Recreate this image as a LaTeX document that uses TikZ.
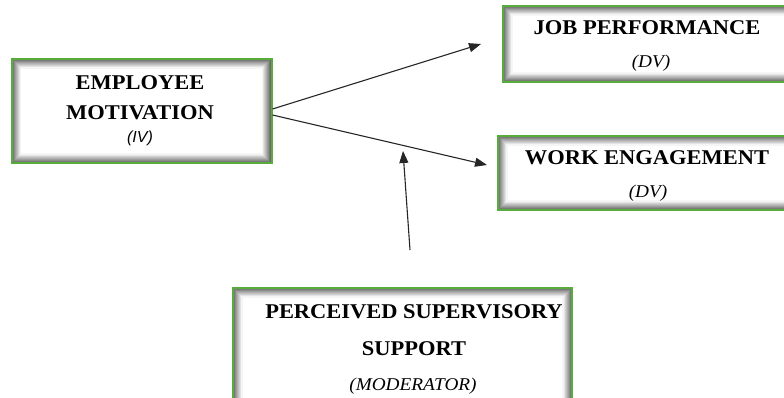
\documentclass[tikz,border=0pt]{standalone}
\usepackage{fontspec}
\setmainfont{Liberation Serif}[FakeStretch=1.07]
\newfontfamily\labelsans{Liberation Sans}
\usetikzlibrary{arrows.meta, positioning}
\definecolor{boxgreen}{RGB}{88,172,58}

\begin{document}
\begin{tikzpicture}[
        x=1pt, y=-1pt,
        varbox/.style={draw=boxgreen, line width=2pt, fill=white,
            path picture={
                \foreach \i in {1,...,9}{
                    \pgfmathsetmacro\gr{int(66-6.8*\i)}
                    \draw[black!\gr, line width=1.1pt]
                        ([shift={(\i pt,-\i pt)}]path picture bounding box.north west) rectangle
                        ([shift={(-\i pt,\i pt)}]path picture bounding box.south east);
                }
            }},
        vartext/.style={font=\fontsize{21}{25}\selectfont\bfseries, inner sep=0pt},
        roletext/.style={font=\fontsize{18}{21}\selectfont\itshape, inner sep=0pt},
        link/.style={-{Triangle[length=12pt, width=9pt]}, line width=1.1pt, black!85}
        ]
        \useasboundingbox (0,0) rectangle (784,398);
        \clip (0,0) rectangle (784,398);

        % boxes
        \node[varbox, minimum width=260pt, minimum height=104pt] (motiv) at (141.5,111) {};
        \node[varbox, minimum width=300pt, minimum height=76pt] (perf) at (653,44) {};
        \node[varbox, minimum width=304pt, minimum height=74pt] (engage) at (650,173) {};
        \node[varbox, minimum width=339pt, minimum height=124pt] (support) at (402.5,350) {};

        % texts
        \node[vartext] (motiv1) at (140,83) {EMPLOYEE};
        \node[vartext] (motiv2) at (140,113) {MOTIVATION};
        \node[font=\labelsans\fontsize{16}{19}\selectfont\itshape, inner sep=0pt] (motiv3) at (140,138) {(IV)};

        \node[vartext] (perf1) at (647,28) {JOB PERFORMANCE};
        \node[roletext] (perf2) at (651,63) {(DV)};

        \node[vartext] (engage1) at (647,158) {WORK ENGAGEMENT};
        \node[roletext] (engage2) at (648,193) {(DV)};

        \node[vartext] (support1) at (414,312) {PERCEIVED SUPERVISORY};
        \node[vartext] (support2) at (414,349) {SUPPORT};
        \node[roletext] (support3) at (413,386) {(MODERATOR)};

        % arrows
        \coordinate (perftip) at (481,44);
        \coordinate (engagetip) at (487,165);
        \coordinate (modfoot) at (410,250);
        \coordinate (modtip) at (403,151);

        \draw[link] ([yshift=2pt]motiv.east) -- (perftip);
        \draw[link] ([yshift=-4pt]motiv.east) -- (engagetip);
        \draw[link] (modfoot) -- (modtip);
    \end{tikzpicture}
\end{document}
